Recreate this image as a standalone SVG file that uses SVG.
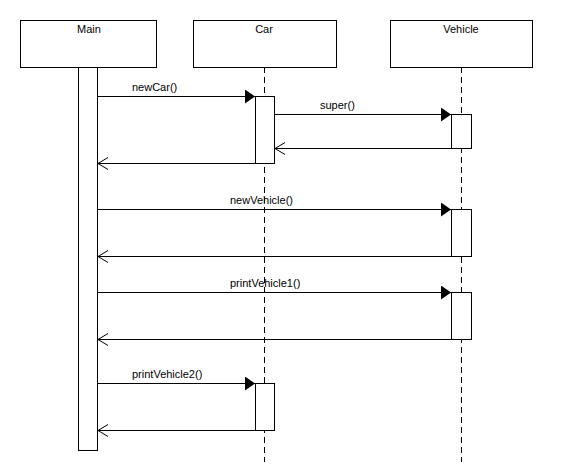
<svg xmlns="http://www.w3.org/2000/svg" width="566" height="472" viewBox="0 0 566 472">
<style>
.box{fill:#fff;stroke:#000;stroke-width:1}
.act{fill:#fff;stroke:#000;stroke-width:1}
.life{stroke:#000;stroke-width:1;stroke-dasharray:6,4;fill:none}
.msg{stroke:#000;stroke-width:1;fill:none}
.ret{stroke:#000;stroke-width:1;fill:none}
text{font-family:"Liberation Sans",Arial,sans-serif;font-size:11px;fill:#000}
.c{text-anchor:middle}
</style>
<defs>
<marker id="fill" markerWidth="10" markerHeight="14" refX="10" refY="7" orient="auto" markerUnits="userSpaceOnUse">
<path d="M0,0 L10,7 L0,14 Z" fill="#000"/>
</marker>
<marker id="open" markerWidth="12" markerHeight="14" refX="11" refY="7" orient="auto" markerUnits="userSpaceOnUse">
<path d="M1,1 L11,7 L1,13" fill="none" stroke="#000" stroke-width="1"/>
</marker>
</defs>
<rect width="566" height="472" fill="#fff"/>
<g id="lifelines">
<line class="life" x1="264.5" y1="67" x2="264.5" y2="462"/>
<line class="life" x1="461.5" y1="67" x2="461.5" y2="462"/>
</g>
<g id="Main">
<rect class="box" x="20.5" y="20.5" width="136" height="47"/>
<text class="c" x="89" y="33">Main</text>
<rect class="act" x="78.5" y="67.5" width="19" height="383"/>
</g>
<g id="Car">
<rect class="box" x="193.5" y="20.5" width="143" height="47"/>
<text class="c" x="264" y="33">Car</text>
<rect class="act" x="255.5" y="96.5" width="19" height="67"/>
<rect class="act" x="255.5" y="383.5" width="19" height="47"/>
</g>
<g id="Vehicle">
<rect class="box" x="390.5" y="20.5" width="142" height="47"/>
<text class="c" x="461" y="33">Vehicle</text>
<rect class="act" x="451.5" y="114.5" width="20" height="34"/>
<rect class="act" x="451.5" y="209.5" width="20" height="47"/>
<rect class="act" x="451.5" y="292.5" width="20" height="47"/>
</g>
<g id="connectors">
<line class="msg" x1="97" y1="96.5" x2="255" y2="96.5" marker-end="url(#fill)"/>
<text x="132" y="91">newCar()</text>
<line class="msg" x1="275" y1="114.5" x2="451" y2="114.5" marker-end="url(#fill)"/>
<text x="320" y="109">super()</text>
<line class="ret" x1="451" y1="148.5" x2="275" y2="148.5" marker-end="url(#open)"/>
<line class="ret" x1="255" y1="163.5" x2="98" y2="163.5" marker-end="url(#open)"/>
<line class="msg" x1="97" y1="209.5" x2="451" y2="209.5" marker-end="url(#fill)"/>
<text x="230" y="204">newVehicle()</text>
<line class="ret" x1="451" y1="256.5" x2="98" y2="256.5" marker-end="url(#open)"/>
<line class="msg" x1="97" y1="292.5" x2="451" y2="292.5" marker-end="url(#fill)"/>
<text x="230" y="287">printVehicle1()</text>
<line class="ret" x1="451" y1="339.5" x2="98" y2="339.5" marker-end="url(#open)"/>
<line class="msg" x1="97" y1="383.5" x2="255" y2="383.5" marker-end="url(#fill)"/>
<text x="132" y="378">printVehicle2()</text>
<line class="ret" x1="255" y1="430.5" x2="98" y2="430.5" marker-end="url(#open)"/>
</g>
</svg>
